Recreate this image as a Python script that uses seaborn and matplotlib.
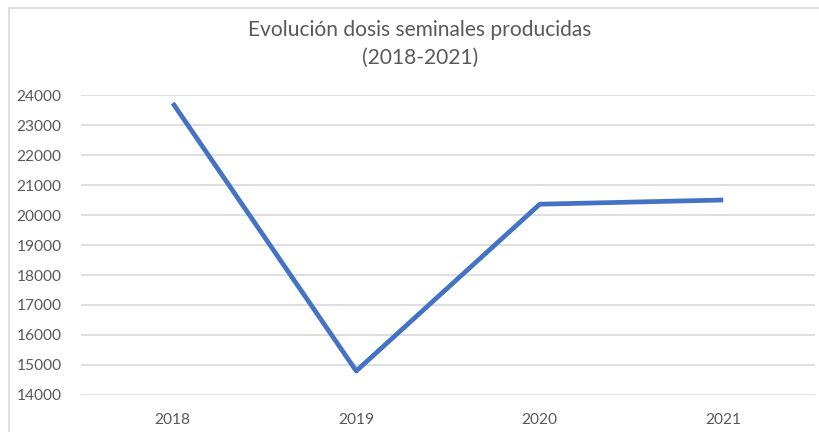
import numpy as np
import pandas as pd
import seaborn as sns
import matplotlib.pyplot as plt
from matplotlib.patches import Rectangle

plt.switch_backend("Agg")

# data
years = ["2018", "2019", "2020", "2021"]
doses = [23730, 14800, 20360, 20500]
y_ticks = list(range(14000, 25000, 1000))
title_lines = ["Evolución dosis seminales producidas", "(2018-2021)"]

df = pd.DataFrame({"year": years, "doses": doses})

sns.set_theme(style="white")
plt.rcParams["font.family"] = ["Lato", "DejaVu Sans"]

fig = plt.figure(figsize=(8.2, 4.32), dpi=100)
ax = fig.add_axes([81 / 820, 1 - 395 / 432, (815 - 81) / 820, (395 - 95) / 432])

# chart area border (partly cropped in the reference)
fig.patches.append(Rectangle((9 / 820, -0.1), 1.2, 1 - 8 / 432 + 0.1,
                             transform=fig.transFigure, fill=False,
                             edgecolor="#d9d9d9", linewidth=1.2, zorder=0))

sns.lineplot(data=df, x="year", y="doses", ax=ax, color="#4472C4",
             linewidth=3.4, sort=False)
ax.lines[0].set_solid_capstyle("butt")
ax.lines[0].set_solid_joinstyle("round")

ax.set_xlim(-0.5, 3.5)
ax.set_ylim(14000, 24000)
ax.set_yticks(y_ticks)
ax.yaxis.grid(True, color="#d9d9d9", linewidth=1.2)
ax.set_axisbelow(True)
for s in ax.spines.values():
    s.set_visible(False)
ax.tick_params(axis="both", length=0, labelsize=11.2, labelcolor="#595959")
ax.tick_params(axis="y", pad=14)
ax.tick_params(axis="x", pad=13)
ax.set_xlabel("")
ax.set_ylabel("")

for i, line in enumerate(title_lines):
    fig.text(420 / 820, 1 - (30 + 28 * i) / 432, line, ha="center", va="center",
             fontsize=15.1, color="#595959")

fig.savefig("out.png", dpi=100)
